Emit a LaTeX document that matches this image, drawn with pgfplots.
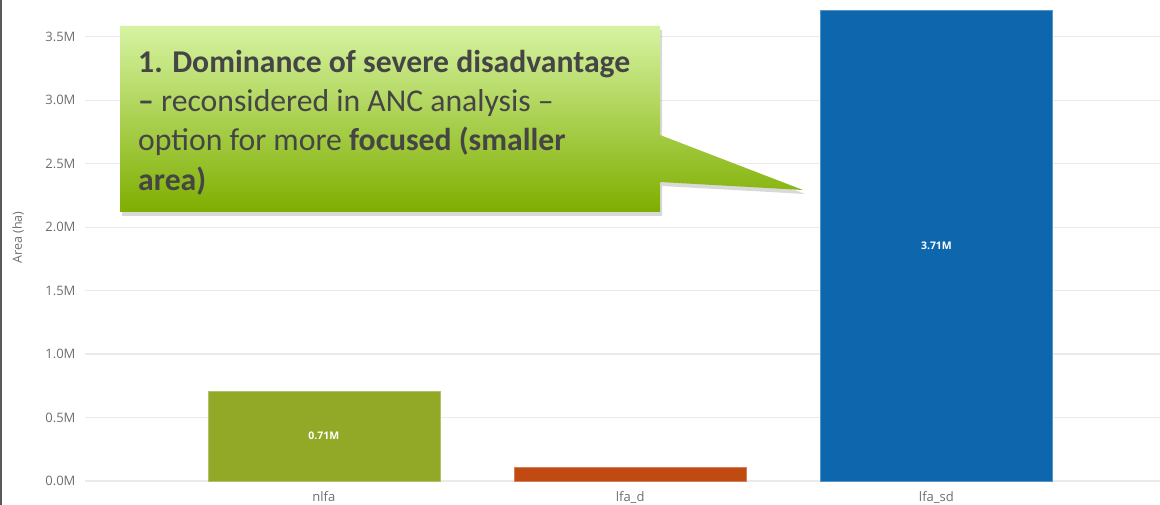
\documentclass[border=0pt]{standalone}
\usepackage{pgfplots}
\pgfplotsset{compat=1.18}
\usepackage{fontspec}
\setmainfont{Open Sans}
\newfontfamily\calibri{Carlito}
\usetikzlibrary{shadows}
\definecolor{cgreen}{HTML}{92A827}
\definecolor{corange}{HTML}{C04A12}
\definecolor{cblue}{HTML}{0E67AD}
\definecolor{tickgray}{HTML}{6E6E6E}
\definecolor{gridgray}{HTML}{EBEBEB}
\definecolor{boxtop}{HTML}{D6F3A2}
\definecolor{boxbot}{HTML}{7FAE00}
\definecolor{boxtext}{HTML}{454545}
\begin{document}
\begin{tikzpicture}[x=1pt,y=1pt]
\path[use as bounding box] (0,0) rectangle (1160,505);
\begin{axis}[
  at={(85pt,24pt)}, anchor=south west,
  scale only axis, width=1075pt, height=481pt,
  xmin=-0.78, xmax=2.73, ymin=0, ymax=3.79,
  axis line style={draw=none}, major tick style={draw=none},
  ymajorgrids, grid style={color=gridgray, line width=1.2pt},
  ytick={0,0.5,1,1.5,2,2.5,3,3.5},
  yticklabels={0.0M,0.5M,1.0M,1.5M,2.0M,2.5M,3.0M,3.5M},
  xtick={0,1,2}, xticklabels={nlfa,lfa\_d,lfa\_sd},
  ticklabel style={font=\fontsize{13}{15}\selectfont, text=tickgray},
  yticklabel style={anchor=east, xshift=-6pt},
  xticklabel style={anchor=north, yshift=-3pt},
  ylabel={Area (ha)},
  ylabel style={at={(axis description cs:0,0.5)}, xshift=3pt, yshift=67pt, anchor=center, font=\fontsize{12.5}{14}\selectfont, text=tickgray},
  ybar, bar width=0.758, bar shift=0pt,
  clip=false,
]
\addplot[fill=cgreen, draw=cgreen!70!white, line width=0.6pt] coordinates {(0,0.71)};
\addplot[fill=corange, draw=corange!70!white, line width=0.6pt] coordinates {(1,0.11)};
\addplot[fill=cblue, draw=cblue!70!white, line width=0.6pt] coordinates {(2,3.71)};
\node[text=white, font=\bfseries\fontsize{10.5}{12}\selectfont] at (axis cs:0,0.355) {0.71M};
\node[text=white, font=\bfseries\fontsize{10.5}{12}\selectfont] at (axis cs:2,1.855) {3.71M};
\end{axis}
\draw[color=gray!70!black, line width=2pt] (1,0) -- (1,505);
\path[top color=boxtop, bottom color=boxbot, drop shadow={opacity=0.3, shadow xshift=2pt, shadow yshift=-4pt}]
  (120,479) -- (660,479) -- (660,370) -- (803,315) -- (660,323) -- (660,293) -- (120,293) -- cycle;
\node[anchor=north west, align=left, text=boxtext, inner sep=0pt,
      font=\calibri\fontsize{31.7}{39.2}\selectfont] at (138,455)
  {\textbf{1. Dominance of severe disadvantage}\\
   \textbf{–} reconsidered in ANC analysis –\\
   option for more \textbf{focused (smaller}\\
   \textbf{area)}};
\end{tikzpicture}
\end{document}
